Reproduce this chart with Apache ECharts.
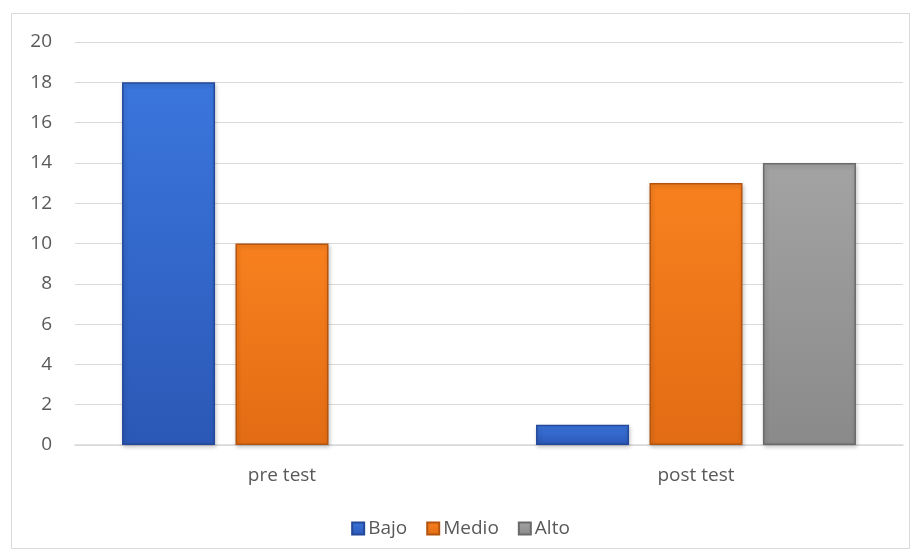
<!DOCTYPE html>
<html>
<head>
<meta charset="utf-8">
<style>
  html, body { margin: 0; padding: 0; background: #ffffff; }
  #chart { width: 921px; height: 559px; }
</style>
<script src="https://cdn.jsdelivr.net/npm/echarts@6/dist/echarts.min.js"></script>
</head>
<body>
<div id="chart"></div>
<script>
// Categories and series values
const categories = ['pre test', 'post test'];
const bajo = [18, 1];
const medio = [10, 13];
const alto = ['-', 14];
const yTicks = { min: 0, max: 20, interval: 2 };

// Bar fill: lighter at the top, deepening toward the base
function shade(top, bottom) {
  return {
    type: 'linear', x: 0, y: 0, x2: 0, y2: 1,
    colorStops: [
      { offset: 0, color: top },
      { offset: 1, color: bottom }
    ]
  };
}

function barSeries(name, data, top, bottom, edge, legendColor) {
  return {
    name: name,
    type: 'bar',
    data: data,
    barWidth: 93,
    barGap: '22%',
    color: legendColor,
    itemStyle: {
      color: shade(top, bottom),
      borderColor: edge,
      borderWidth: 1.5,
      shadowColor: 'rgba(0,0,0,0.22)',
      shadowBlur: 4,
      shadowOffsetX: 1,
      shadowOffsetY: 2
    },
    emphasis: { disabled: true }
  };
}

const font = 'Open Sans';
const chart = echarts.init(document.getElementById('chart'), null, { renderer: 'canvas' });
chart.setOption({
  animation: false,
  backgroundColor: '#ffffff',
  graphic: [{
    type: 'rect',
    shape: { x: 11.5, y: 13.5, width: 898, height: 535 },
    style: { fill: 'none', stroke: '#d9d9d9', lineWidth: 1 },
    silent: true
  }],
  grid: { left: 75, right: 18, top: 42, bottom: 114 },
  legend: {
    bottom: 16,
    left: 'center',
    itemWidth: 12,
    itemHeight: 12,
    itemGap: 19,
    icon: 'rect',
    textStyle: { color: '#595959', fontSize: 19, fontFamily: font, padding: [0, 0, 0, -1] },
    data: ['Bajo', 'Medio', 'Alto']
  },
  xAxis: {
    type: 'category',
    data: categories,
    axisLine: { lineStyle: { color: '#d9d9d9', width: 1.5 } },
    axisTick: { show: false },
    axisLabel: { color: '#595959', fontSize: 19, fontFamily: font, margin: 21 }
  },
  yAxis: {
    type: 'value',
    min: yTicks.min,
    max: yTicks.max,
    interval: yTicks.interval,
    axisLine: { show: false },
    axisTick: { show: false },
    axisLabel: { color: '#595959', fontSize: 19, fontFamily: font, margin: 23 },
    splitLine: { lineStyle: { color: '#d9d9d9', width: 1 } }
  },
  series: [
    barSeries('Bajo', bajo, '#3b76dd', '#2b58b6', '#24499a', '#3466c6'),
    barSeries('Medio', medio, '#f8801e', '#e26c14', '#b4540e', '#e4701a'),
    barSeries('Alto', alto, '#a3a3a3', '#8a8a8a', '#6a6a6a', '#8c8c8c')
  ]
});
</script>
</body>
</html>
